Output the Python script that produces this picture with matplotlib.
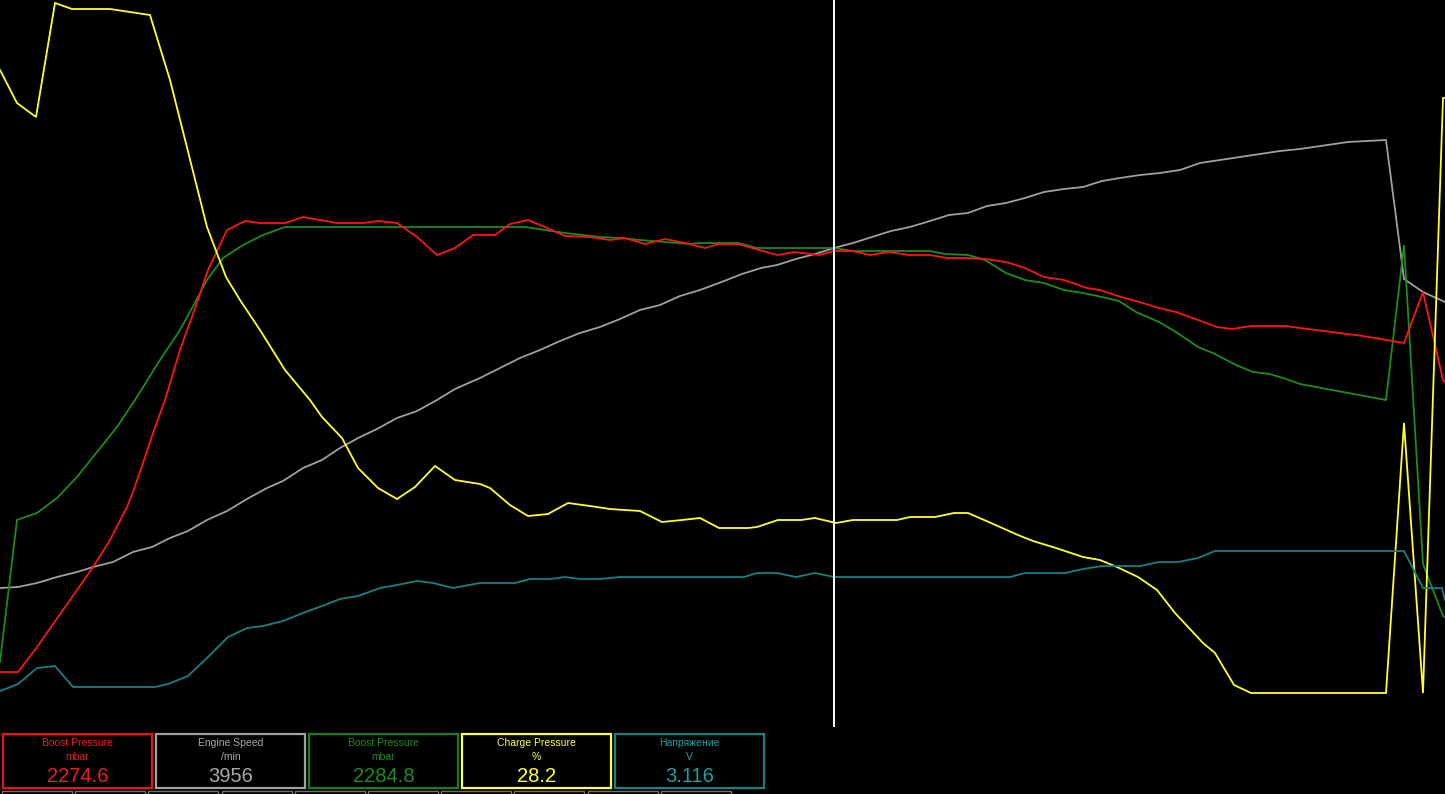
import matplotlib
matplotlib.use("Agg")
import matplotlib.pyplot as plt
from matplotlib.patches import Rectangle

# screen level of each channel (0 = top of the graph, 727 = bottom)
red_t = [0, 18, 37, 77, 93, 110, 127, 133, 143, 153, 165, 180, 198, 208, 227, 245, 260, 285, 303, 320,
         337, 363, 378, 397, 417, 437, 455, 473, 495, 510, 528, 545, 565, 590, 610, 625, 645, 665, 685, 705,
         719, 738, 759, 778, 794, 803, 819, 834, 853, 870, 889, 909, 930, 947, 968, 985, 1006, 1025, 1044, 1064,
         1087, 1100, 1121, 1136, 1159, 1176, 1198, 1217, 1232, 1251, 1286, 1300, 1363, 1404, 1423, 1443, 1445]
red_v = [672, 672, 647, 590, 567, 540, 507, 492, 463, 433, 400, 350, 300, 270, 230, 221, 223, 223, 217, 220,
         223, 223, 221, 223, 237, 255, 248, 235, 235, 224, 220, 227, 236, 237, 240, 238, 244, 239, 243, 248,
         244, 244, 250, 255, 252, 253, 255, 251, 251, 255, 252, 255, 255, 258, 258, 259, 262, 268, 277, 280,
         288, 290, 297, 301, 308, 312, 320, 327, 329, 326, 326, 328, 336, 343, 292, 380, 382]

green_t = [0, 17, 37, 57, 77, 97, 117, 135, 160, 180, 198, 207, 223, 243, 263, 285, 525, 545, 565, 600,
           620, 640, 665, 690, 700, 738, 757, 834, 853, 930, 945, 968, 985, 1006, 1025, 1044, 1064, 1083, 1102, 1119,
           1136, 1159, 1176, 1198, 1213, 1236, 1253, 1270, 1286, 1300, 1386, 1404, 1423, 1443, 1445]
green_v = [662, 520, 513, 498, 477, 452, 427, 400, 360, 330, 297, 280, 258, 245, 235, 227, 227, 230, 233, 237,
           238, 240, 242, 244, 243, 243, 248, 248, 251, 251, 254, 255, 260, 273, 280, 283, 290, 293, 297, 301,
           312, 322, 332, 347, 353, 365, 372, 374, 379, 384, 400, 245, 564, 616, 617]

gray_t = [0, 18, 37, 57, 77, 93, 113, 133, 152, 170, 188, 207, 227, 247, 267, 283, 303, 322, 340, 360,
          377, 397, 417, 437, 455, 480, 500, 520, 540, 560, 580, 600, 620, 640, 660, 680, 700, 719, 742, 761,
          777, 796, 815, 834, 853, 872, 891, 910, 930, 949, 968, 987, 1006, 1025, 1044, 1064, 1083, 1102, 1120, 1140,
          1160, 1180, 1200, 1220, 1240, 1260, 1280, 1300, 1348, 1386, 1404, 1423, 1445]
gray_v = [588, 587, 583, 577, 572, 567, 562, 552, 547, 538, 531, 520, 511, 499, 488, 481, 468, 460, 448, 437,
          429, 418, 411, 400, 389, 378, 368, 358, 350, 341, 333, 327, 319, 310, 305, 296, 290, 283, 274, 268,
          265, 259, 254, 248, 243, 237, 231, 227, 221, 215, 213, 206, 203, 198, 192, 189, 187, 181, 178, 175,
          173, 170, 163, 160, 157, 154, 151, 149, 142, 140, 279, 292, 302]

yellow_t = [0, 17, 36, 55, 72, 110, 150, 170, 207, 226, 240, 260, 285, 310, 322, 342, 358, 378, 397, 415,
            435, 455, 480, 490, 510, 528, 548, 568, 590, 610, 640, 662, 682, 700, 719, 748, 757, 778, 801, 815,
            836, 853, 897, 910, 935, 954, 968, 991, 1018, 1033, 1056, 1083, 1100, 1117, 1138, 1157, 1175, 1203, 1215, 1234,
            1251, 1386, 1404, 1423, 1443, 1445]
yellow_v = [70, 103, 117, 3, 9, 9, 15, 80, 227, 277, 300, 330, 370, 400, 417, 438, 468, 488, 499, 487,
            466, 480, 484, 488, 505, 516, 514, 503, 506, 509, 511, 522, 520, 518, 528, 528, 527, 520, 520, 518,
            523, 520, 520, 517, 517, 513, 513, 523, 535, 541, 548, 557, 560, 567, 577, 590, 613, 643, 653, 685,
            693, 693, 423, 693, 98, 98]

teal_t = [0, 18, 37, 55, 73, 155, 168, 188, 208, 228, 247, 263, 283, 303, 322, 340, 358, 380, 397, 417,
          433, 453, 480, 500, 515, 530, 550, 565, 580, 600, 620, 744, 757, 777, 796, 815, 834, 1010, 1025, 1065,
          1083, 1102, 1140, 1159, 1178, 1198, 1215, 1404, 1423, 1442, 1445]
teal_v = [691, 684, 668, 666, 687, 687, 684, 676, 657, 637, 628, 626, 621, 613, 606, 599, 596, 588, 585, 581,
          583, 588, 583, 583, 583, 579, 579, 577, 579, 579, 577, 577, 573, 573, 577, 573, 577, 577, 573, 573,
          569, 566, 566, 562, 562, 558, 551, 551, 588, 588, 600]

cursor_t = 834

names = ["Boost Pressure", "Engine Speed", "Boost Pressure", "Charge Pressure", "Напряжение"]
units = ["mbar", "/min", "mbar", "%", "V"]
readings = ["2274.6", "3956", "2284.8", "28.2", "3.116"]

COLORS = ["#ff1414", "#a0a0a0", "#1c8c1c", "#ffff30", "#1a8080"]
BOX_EDGE = ["#e01818", "#a0a0a0", "#1c7c1c", "#ffff50", "#1a8080"]
TEXT_COL = ["#e82020", "#a8a8a8", "#1e8c1e", "#ffff40", "#20a0a0"]

plt.rcParams['font.family'] = ['Liberation Sans', 'DejaVu Sans']

fig = plt.figure(figsize=(14.45, 7.94), dpi=100, facecolor="black")

# graph area
ax = fig.add_axes([0, 67 / 794, 1, 727 / 794])
ax.set_facecolor("black")
series = [(red_t, red_v), (gray_t, gray_v), (green_t, green_v), (yellow_t, yellow_v), (teal_t, teal_v)]
order = [1, 2, 0, 3, 4]
for i in order:
    t, v = series[i]
    ax.plot(t, v, color=COLORS[i], lw=1.3, solid_joinstyle="miter")
ax.axvline(cursor_t, color="white", lw=1.4)
ax.set_xlim(0, 1445)
ax.set_ylim(727, 0)
ax.axis("off")

# reading boxes along the bottom
panel = fig.add_axes([0, 0, 1, 1])
panel.set_xlim(0, 1445)
panel.set_ylim(794, 0)
panel.axis("off")
panel.patch.set_alpha(0)

for i in range(5):
    x0 = 3 + i * 153
    panel.add_patch(Rectangle((x0, 734), 149, 54, fill=False, edgecolor=BOX_EDGE[i], lw=1.6))
    cx = x0 + 74.5
    panel.text(cx, 743, names[i], color=TEXT_COL[i], fontsize=7.5, ha="center", va="center")
    panel.text(cx, 757, units[i], color=TEXT_COL[i], fontsize=7.5, ha="center", va="center")
    panel.text(cx, 777, readings[i], color=TEXT_COL[i], fontsize=14.5, ha="center", va="center")

for k in range(10):
    panel.add_patch(Rectangle((2 + k * 73.2, 791), 70, 12, fill=False, edgecolor="#707070", lw=1))

fig.savefig("out.png", dpi=100, facecolor="black")
